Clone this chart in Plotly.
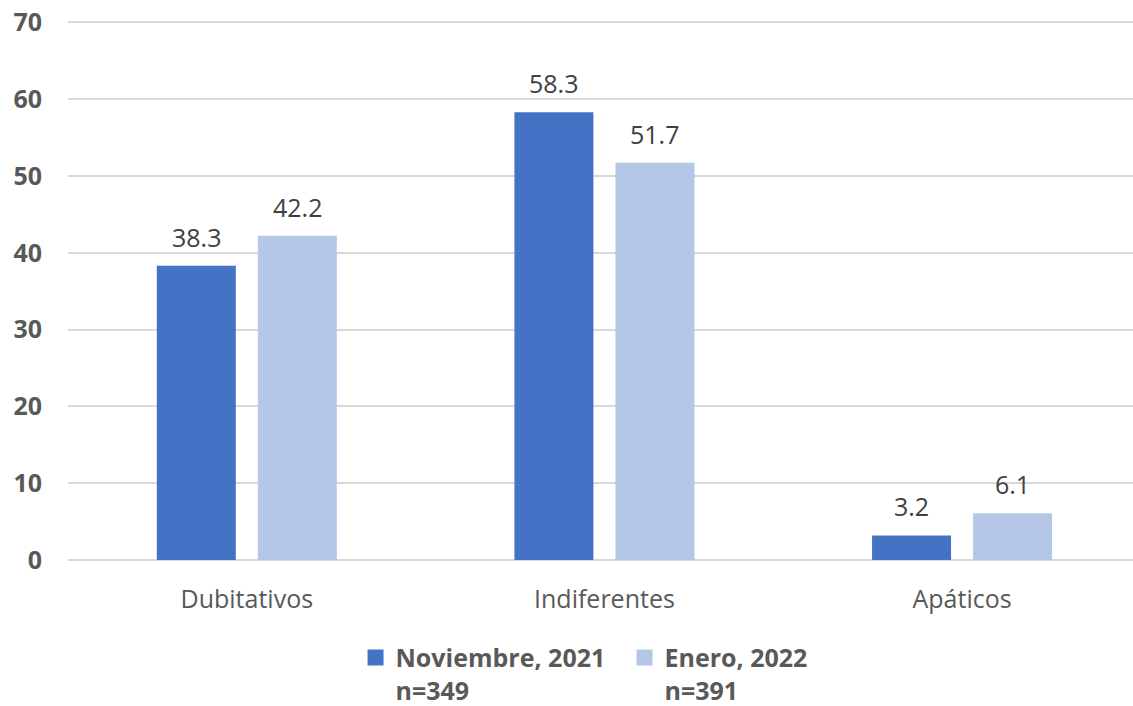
import plotly.graph_objects as go

categories = ["Dubitativos", "Indiferentes", "Apáticos"]
nov_2021 = [38.3, 58.3, 3.2]
ene_2022 = [42.2, 51.7, 6.1]
series_names = ["Noviembre, 2021<br>n=349", "Enero, 2022<br>n=391"]
colors = ["#4472C4", "#B4C7E7"]
y_ticks = [0, 10, 20, 30, 40, 50, 60, 70]

FONT = "Open Sans"
fig = go.Figure()
offsets = [-50.5, 50.5]
for name, vals, col, off in zip(series_names, [nov_2021, ene_2022], colors, offsets):
    fig.add_trace(go.Bar(x=categories, y=vals, name=name, marker_color=col,
                         marker_line_width=0, showlegend=False))
    # legend swatch
    fig.add_trace(go.Scatter(x=[None], y=[None], mode="markers", name=name,
                             marker=dict(symbol="square", size=16, color=col)))
    for c, v in zip(categories, vals):
        fig.add_annotation(x=c, y=v, text=f"{v:.1f}", showarrow=False,
                           xshift=off, yshift=10, yanchor="bottom",
                           font=dict(family=FONT, size=25, color="#404040"))

fig.update_layout(
    width=1133, height=706,
    paper_bgcolor="white", plot_bgcolor="white",
    margin=dict(l=68, r=0, t=20, b=146, autoexpand=False),
    barmode="group", bargap=0.435, bargroupgap=0.218,
    font=dict(family=FONT, color="#595959"),
    xaxis=dict(range=[-0.5, 2.478], tickfont=dict(size=25, color="#595959"),
               showline=False, ticks="", showgrid=False, ticklabelstandoff=22),
    yaxis=dict(range=[0, 70.3], tickvals=y_ticks, showgrid=True,
               gridcolor="#D9D9D9", gridwidth=1.5, zeroline=True,
               zerolinecolor="#D9D9D9", zerolinewidth=1.5,
               tickfont=dict(size=25, color="#595959", family=FONT, weight="bold"),
               ticklabelstandoff=25, ticklabeloverflow="allow"),
    legend=dict(orientation="h", x=0.270, xanchor="left", y=-0.1383, yanchor="top",
                valign="top", entrywidth=224,
                font=dict(size=25, color="#595959", family=FONT, weight="bold"),
                itemwidth=30, tracegroupgap=0),
    showlegend=True,
)
fig.update_yaxes(automargin=False)
fig.update_xaxes(automargin=False)
fig.write_html("out.html", config={"displayModeBar": False},
               post_script="document.body.style.margin='0px';")
